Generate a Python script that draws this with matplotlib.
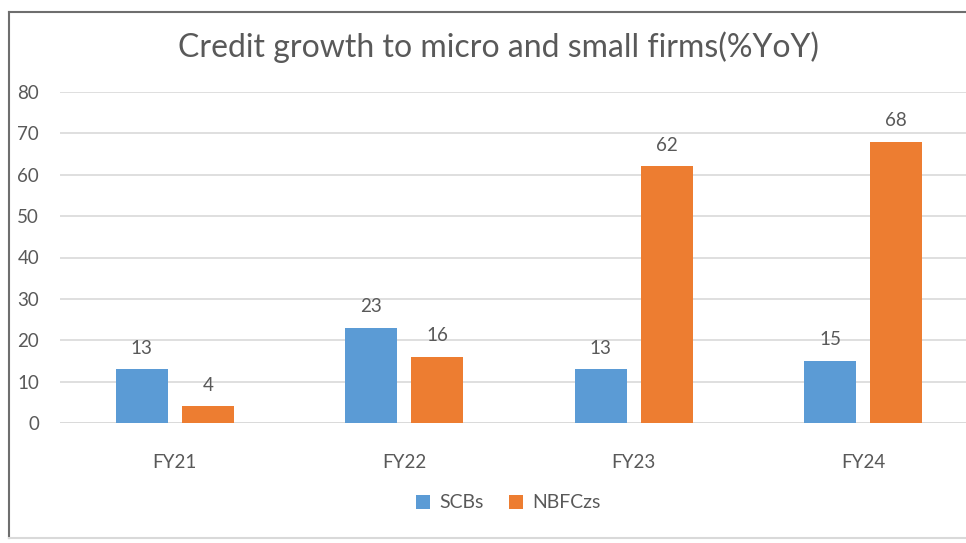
import numpy as np
import matplotlib.pyplot as plt
from matplotlib.lines import Line2D

plt.rcParams['font.family'] = ['Lato', 'DejaVu Sans']

# Chart data
years = ['FY21', 'FY22', 'FY23', 'FY24']
scbs = [13, 23, 13, 15]
nbfczs = [4, 16, 62, 68]

blue = '#5B9BD5'
orange = '#ED7D31'
text_grey = '#595959'

W, H = 966, 543
fig = plt.figure(figsize=(W / 100, H / 100), dpi=100)
fig.patch.set_facecolor('white')

# plot area in pixels: x 60..978, y 92..423
ax = fig.add_axes([60 / W, (H - 423) / H, 918 / W, 331 / H])

x = np.arange(len(years))
width = 0.227
offset = 0.144
b1 = ax.bar(x - offset, scbs, width, color=blue, label='SCBs', zorder=3)
b2 = ax.bar(x + offset, nbfczs, width, color=orange, label='NBFCzs', zorder=3)

for bars in (b1, b2):
    ax.bar_label(bars, padding=9, fontsize=13.5, color=text_grey)

ax.set_xlim(-0.5, 3.5)
ax.set_ylim(0, 80)
ax.set_yticks(range(0, 81, 10))
ax.set_xticks(x)
ax.set_xticklabels(years)
ax.grid(axis='y', color='#D9D9D9', linewidth=1.2, zorder=0)
ax.tick_params(axis='both', length=0, labelsize=13.5, labelcolor=text_grey)
ax.tick_params(axis='x', pad=22)
ax.tick_params(axis='y', pad=15)
for s in ax.spines.values():
    s.set_visible(False)
ax.axhline(0, color='#D9D9D9', linewidth=1.2, zorder=2)

fig.text(499 / W, 1 - 47 / H, 'Credit growth to micro and small firms(%YoY)',
         ha='center', va='center', fontsize=23, color=text_grey)

fig.legend(handles=[b1, b2], labels=['SCBs', 'NBFCzs'], loc='center',
           bbox_to_anchor=(508 / W, 1 - 503 / H), ncol=2, frameon=False,
           fontsize=14, labelcolor=text_grey, handlelength=0.75, handleheight=0.75,
           columnspacing=1.3, handletextpad=0.45)

# chart border
fig.add_artist(Line2D([8.5 / W, 8.5 / W], [1 - 12 / H, 1 - 538 / H], color='#6E6E6E', linewidth=1.5))
fig.add_artist(Line2D([8.5 / W, 1], [1 - 12 / H, 1 - 12 / H], color='#6E6E6E', linewidth=1.5))
fig.add_artist(Line2D([8.5 / W, 1], [1 - 538 / H, 1 - 538 / H], color='#D9D9D9', linewidth=1.5))

fig.savefig('out.png', dpi=100)
